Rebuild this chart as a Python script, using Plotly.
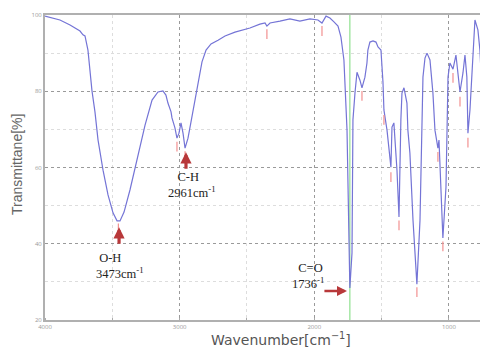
import plotly.graph_objects as go

# Spectrum trace (wavenumber cm-1, transmittance %)
wavenumber = [4000, 3889, 3814, 3740, 3718, 3703, 3681, 3666, 3651, 3629, 3606, 3569, 3532, 3495,
              3465, 3443, 3413, 3369, 3317, 3257, 3205, 3161, 3124, 3102, 3087, 3064, 3057, 3035,
              3020, 3005, 2990, 2975, 2960, 2938, 2916, 2886, 2856, 2834, 2804, 2767, 2715, 2663,
              2589, 2478, 2404, 2366, 2352, 2329, 2255, 2181, 2107, 2032, 1973, 1943, 1913, 1884,
              1854, 1824, 1802, 1780, 1757, 1736, 1720, 1713, 1698, 1683, 1661, 1646, 1624, 1609,
              1602, 1587, 1564, 1542, 1527, 1505, 1490, 1483, 1460, 1438, 1431, 1423, 1409, 1386,
              1371, 1357, 1349, 1334, 1312, 1305, 1290, 1267, 1238, 1215, 1201, 1193, 1178, 1163,
              1141, 1119, 1104, 1089, 1082, 1074, 1052, 1045, 1022, 1015, 1007, 993, 970, 948,
              933, 918, 896, 881, 867, 859, 844, 822, 807, 785, 770, 748, 740, 718, 710]
transmittance = [99.7, 98.7, 97.4, 95.8, 94.8, 94.5, 90.8, 85.6, 80.1, 74.6, 67.2, 59.3, 52.8, 48.1,
                 46.0, 46.0, 48.3, 54.1, 62.0, 71.1, 77.7, 79.8, 80.1, 79.0, 76.9, 74.6, 73.0, 70.4,
                 67.7, 69.0, 71.7, 69.0, 65.1, 67.7, 71.9, 77.7, 82.9, 87.7, 90.8, 92.4, 93.4, 94.5,
                 95.5, 96.6, 97.6, 97.9, 97.1, 97.9, 98.4, 99.0, 98.4, 99.0, 98.7, 97.9, 99.7, 99.2,
                 98.2, 97.1, 94.2, 88.2, 69.8, 28.4, 37.6, 72.5, 79.5, 85.0, 82.9, 80.9, 83.7, 87.4,
                 90.8, 92.9, 93.2, 92.9, 91.6, 90.8, 82.4, 75.1, 69.8, 61.2, 60.1, 70.6, 71.7, 59.3,
                 47.0, 72.5, 79.5, 80.9, 76.9, 69.8, 63.8, 46.2, 29.4, 46.2, 72.5, 83.7, 88.7, 90.0,
                 88.2, 79.5, 69.8, 67.2, 65.1, 67.2, 50.7, 41.5, 54.9, 72.5, 83.7, 87.4, 85.8, 89.5,
                 83.7, 79.8, 84.8, 89.5, 83.7, 69.0, 75.1, 90.8, 98.7, 96.1, 90.8, 75.1, 60.1, 83.7, 85.6]

# Peak-pick markers (small ticks below picked minima)
peak_wn = [3455, 3020, 2960, 2352, 1943, 1646, 1483, 1431, 1371, 1238, 1082, 1045, 970, 918, 859, 740]
peak_t = [44.0, 65.5, 63.0, 95.0, 95.8, 78.8, 72.5, 57.5, 44.8, 27.3, 62.8, 39.3, 83.5, 77.3, 66.5, 57.8]

# Band annotations
band_names = ["O-H", "C-H", "C=O"]
band_labels = ["3473cm<sup>-1</sup>", "2961cm<sup>-1</sup>", "1736<sup>-1</sup>"]
carbonyl_wn = 1736

x_ticks = [4000, 3000, 2000, 1000]
y_ticks = [20, 40, 60, 80, 100]

fig = go.Figure()
fig.add_trace(go.Scatter(x=wavenumber, y=transmittance, mode="lines",
                         line=dict(color="#7474d6", width=1.2), hoverinfo="skip"))
fig.add_trace(go.Scatter(x=peak_wn, y=peak_t, mode="markers",
                         marker=dict(symbol="line-ns", size=7,
                                     line=dict(width=1.2, color="#f29090")),
                         hoverinfo="skip"))

# green reference line at carbonyl band
fig.add_shape(type="line", x0=carbonyl_wn, x1=carbonyl_wn, y0=20, y1=100,
              xref="x", yref="y", line=dict(color="#8fe08f", width=1.2), layer="below")

arrow_color = "#b8383a"
serif = dict(family="Liberation Serif, Times New Roman, serif", size=12.5, color="#222")

# O-H arrow (up)
fig.add_annotation(x=3450, y=44.3, ax=3450, ay=39.6, xref="x", yref="y", axref="x", ayref="y",
                   showarrow=True, arrowhead=2, arrowsize=0.7, arrowwidth=3.2,
                   arrowcolor=arrow_color, text="")
# C-H arrow (up)
fig.add_annotation(x=2953, y=64.0, ax=2953, ay=59.3, xref="x", yref="y", axref="x", ayref="y",
                   showarrow=True, arrowhead=2, arrowsize=0.7, arrowwidth=3.2,
                   arrowcolor=arrow_color, text="")
# C=O arrow (right)
fig.add_annotation(x=1757, y=27.6, ax=1936, ay=27.6, xref="x", yref="y", axref="x", ayref="y",
                   showarrow=True, arrowhead=2, arrowsize=0.8, arrowwidth=2.5,
                   arrowcolor=arrow_color, text="")

# labels (name on first line, wavenumber on second)
label_pos = [(3440, 34.1, 1), (2905, 55.3, 3), (2050, 31.6, 2)]
for (lx, ly, pad), name, lab in zip(label_pos, band_names, band_labels):
    fig.add_annotation(x=lx, y=ly, xref="x", yref="y", xanchor="center", yanchor="middle",
                       text="&nbsp;" * pad + name + "<br>" + lab, align="left",
                       showarrow=False, font=serif)

# axis titles
fig.add_annotation(x=0.533, y=-0.062, xref="paper", yref="paper", xanchor="center", yanchor="middle",
                   text="Wavenumber[cm<sup>−1</sup>]", showarrow=False,
                   font=dict(family="DejaVu Sans, Verdana, sans-serif", size=14, color="#555"))
fig.add_annotation(x=-0.062, y=0.51, xref="paper", yref="paper", xanchor="center", yanchor="middle",
                   text="Transmittane[%]", textangle=-90, showarrow=False,
                   font=dict(family="Liberation Sans, Arial, sans-serif", size=14, color="#666"))

# page body has an 8px default margin: figure is sized so the plot lands where the reference has it
fig.update_layout(
    width=480, height=340,
    margin=dict(l=37, r=0, t=7, b=28, autoexpand=False),
    paper_bgcolor="white", plot_bgcolor="white",
    showlegend=False,
    xaxis=dict(range=[4000, 710], tickvals=x_ticks, ticktext=[str(v) for v in x_ticks],
               tickfont=dict(size=6, color="#999"), ticks="", ticklen=0,
               showgrid=True, gridcolor="#9a9a9a", griddash="dot", gridwidth=1,
               minor=dict(dtick=500, tick0=0, showgrid=True, gridcolor="#dddddd", griddash="dot",
                          ticks="inside", ticklen=2, tickcolor="#aaa"),
               showline=True, linecolor="#b0b0b0", linewidth=2, mirror=True,
               zeroline=False),
    yaxis=dict(range=[20, 100], tickvals=y_ticks, ticktext=[str(v) for v in y_ticks],
               tickfont=dict(size=6, color="#999"), ticks="", ticklen=0,
               showgrid=True, gridcolor="#9a9a9a", griddash="dot", gridwidth=1,
               minor=dict(dtick=10, tick0=0, showgrid=True, gridcolor="#dddddd", griddash="dot"),
               showline=True, linecolor="#b0b0b0", linewidth=2, mirror=False,
               zeroline=False),
)

fig.write_html("out.html")
